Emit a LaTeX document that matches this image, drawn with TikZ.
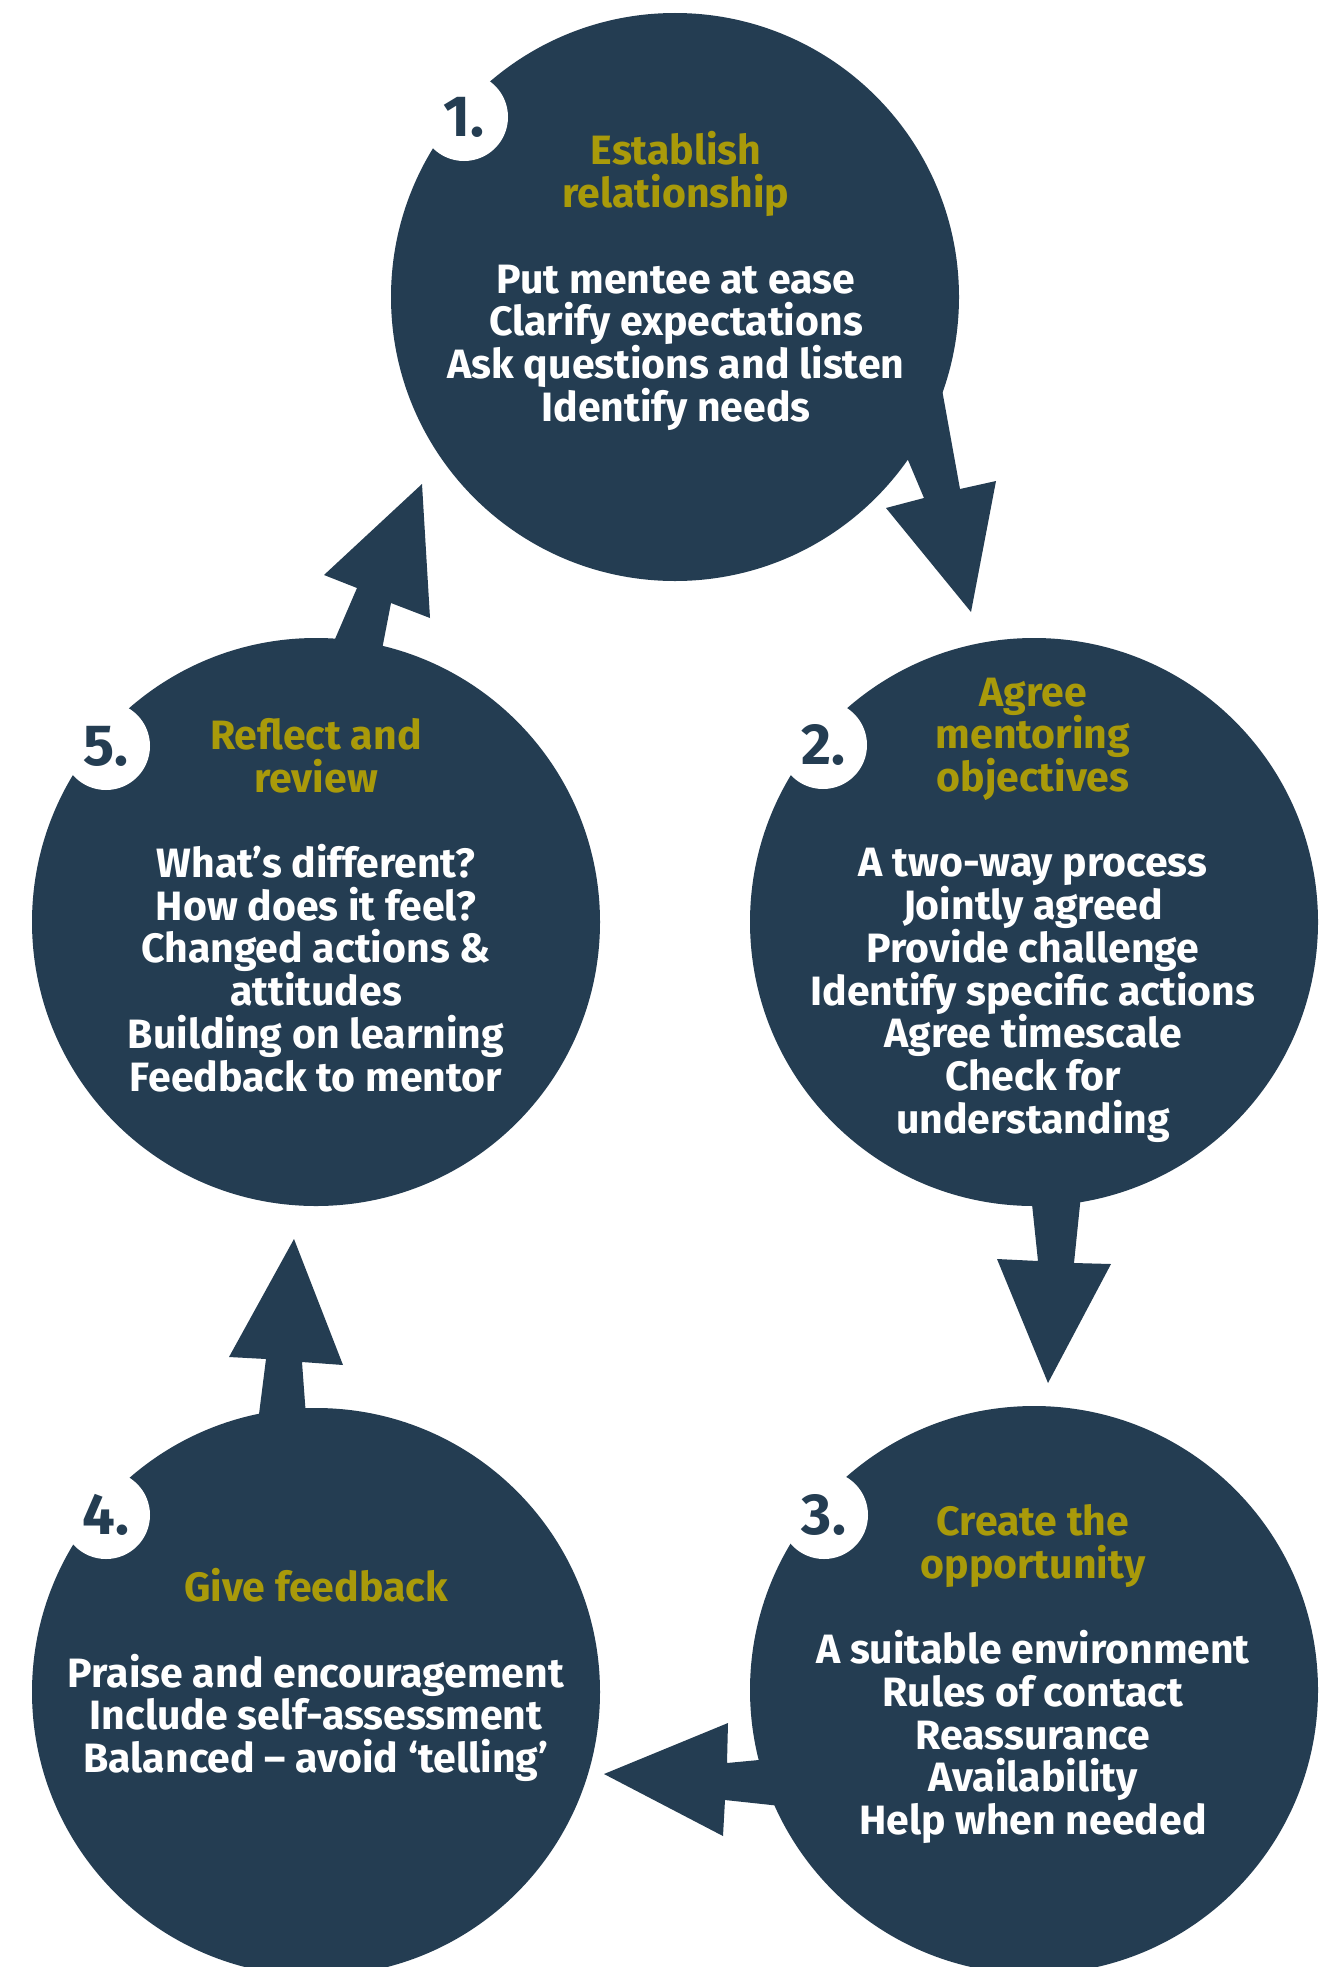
\documentclass[tikz,border=0pt]{standalone}
\usepackage{fontspec}
\setmainfont{Fira Sans}
\usetikzlibrary{calc}
\definecolor{navy}{HTML}{243D52}
\definecolor{gold}{HTML}{A99A0A}
\tikzset{
  bubble/.style={circle, fill=navy, inner sep=0pt, minimum size=568pt},
  badge/.style={circle, fill=white, inner sep=0pt, minimum size=88pt, text=navy,
    font=\fontsize{58}{58}\selectfont\bfseries},
  blocktext/.style={align=center, text=white, inner sep=0pt,
    font=\fontsize{41}{42.7}\selectfont\bfseries},
  blockarrow/.style={fill=navy},
}
\newcommand{\hd}[1]{\textcolor{gold}{#1}}
\begin{document}
\begin{tikzpicture}[x=1pt,y=-1pt]
\useasboundingbox (0,0) rectangle (1333,1967);
\fill[white] (0,0) rectangle (1333,1967);

% circles
\node[bubble] (c1) at (675,297) {};
\node[bubble] (c2) at (1034,922) {};
\node[bubble] (c3) at (1034,1690) {};
\node[bubble] (c4) at (316,1692) {};
\node[bubble] (c5) at (316,922) {};

% block arrows
\fill[blockarrow] (900,441) -- (924,498) -- (886,508) -- (971,612) -- (996,481) -- (960,489) -- (939,373) -- cycle;
\fill[blockarrow] (1030,1185) -- (1038,1261) -- (997,1259) -- (1048,1383) -- (1111,1264) -- (1074,1263) -- (1082,1185) -- cycle;
\fill[blockarrow] (780,1758) -- (727,1763) -- (728,1723) -- (604,1774) -- (723,1836) -- (725,1800) -- (790,1807) -- cycle;
\fill[blockarrow] (257,1430) -- (266,1359) -- (229,1357) -- (294,1239) -- (343,1365) -- (302,1362) -- (307,1430) -- cycle;
\fill[blockarrow] (326,660) -- (357,588) -- (324,575) -- (422,484) -- (430,618) -- (391,603) -- (379,665) -- cycle;

% badges
\node[badge] (b1) at (464,117) {1.};
\node[badge] (b2) at (823,745) {2.};
\node[badge] (b3) at (824,1515) {3.};
\node[badge] (b4) at (106,1515) {4.};
\node[badge] (b5) at (106,746) {5.};

% texts
\node[blocktext] (t1) at (676,281) {\hd{Establish}\\\hd{relationship}\\[42.7pt]
  Put mentee at ease\\Clarify expectations\\Ask questions and listen\\Identify needs};
\node[blocktext] (t2) at (1033,910) {\hd{Agree}\\\hd{mentoring}\\\hd{objectives}\\[42.7pt]
  A two-way process\\Jointly agreed\\Provide challenge\\Identify specific actions\\Agree timescale\\Check for\\understanding};
\node[blocktext] (t3) at (1033,1674) {\hd{Create the}\\\hd{opportunity}\\[42.7pt]
  A suitable environment\\Rules of contact\\Reassurance\\Availability\\Help when needed};
\node[blocktext] (t4) at (316,1675) {\hd{Give feedback}\\[42.7pt]
  Praise and encouragement\\Include self-assessment\\Balanced – avoid ‘telling’};
\node[blocktext] (t5) at (316,905) {\hd{Reflect and}\\\hd{review}\\[42.7pt]
  What’s different?\\How does it feel?\\Changed actions \&\\attitudes\\Building on learning\\Feedback to mentor};
\end{tikzpicture}
\end{document}
